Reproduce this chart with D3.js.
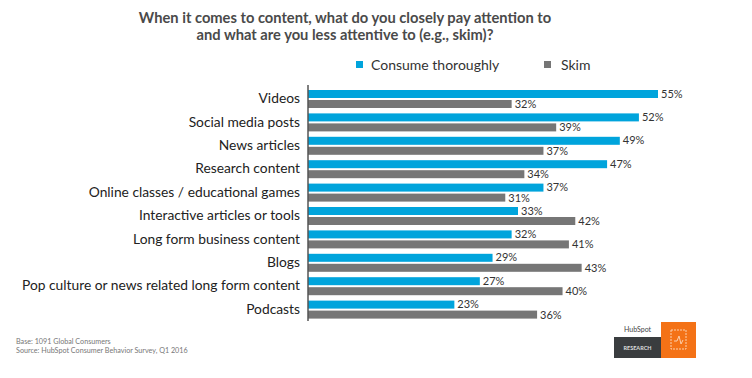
<!DOCTYPE html>
<html>
<head>
<meta charset="utf-8">
<script src="https://cdn.jsdelivr.net/npm/d3@7"></script>
<style>
  html, body { margin: 0; padding: 0; background: #fff; }
  svg { display: block; }
  text { font-family: Lato, sans-serif; }
</style>
</head>
<body>
<svg id="chart"></svg>
<script>
const categories = ['Videos', 'Social media posts', 'News articles', 'Research content',
  'Online classes / educational games', 'Interactive articles or tools',
  'Long form business content', 'Blogs', 'Pop culture or news related long form content', 'Podcasts'];
const consume = [55, 52, 49, 47, 37, 33, 32, 29, 27, 23];
const skim = [32, 39, 37, 34, 31, 42, 41, 43, 40, 36];
const seriesNames = ['Consume thoroughly', 'Skim'];
const titleLines = ['When it comes to content, what do you closely pay attention to',
  'and what are you less attentive to (e.g., skim)?'];
const notes = ['Base: 1091 Global Consumers', 'Source: HubSpot Consumer Behavior Survey, Q1 2016'];

const width = 752, height = 378;
const blue = '#00a4dc', grey = '#767676';

const svg = d3.select('#chart').attr('width', width).attr('height', height);

const x = d3.scaleLinear().domain([0, 55]).range([308, 658]);
const y = d3.scaleBand().domain(categories).range([87, 321]);

// title
svg.append('g').selectAll('text').data(titleLines).join('text')
    .attr('x', 345).attr('y', (d, i) => 23 + i * 16.5)
    .attr('text-anchor', 'middle')
    .attr('font-size', 14.7).attr('font-weight', 700).attr('fill', '#4a4a4a')
    .text(d => d);

// legend
const legendX = [356, 544];
const legend = svg.append('g').selectAll('g').data(seriesNames).join('g')
    .attr('transform', (d, i) => `translate(${legendX[i]},61)`);
legend.append('rect').attr('width', 7).attr('height', 7)
    .attr('fill', (d, i) => i === 0 ? blue : grey);
legend.append('text').attr('x', (d, i) => i === 0 ? 15 : 17).attr('y', 9)
    .attr('font-size', 14).attr('fill', '#333').text(d => d);

// bars
const rows = svg.append('g').selectAll('g').data(categories).join('g')
    .attr('transform', d => `translate(0,${y(d)})`);

rows.append('rect').attr('x', x(0)).attr('y', 3)
    .attr('width', (d, i) => x(consume[i]) - x(0)).attr('height', 8).attr('fill', blue);
rows.append('rect').attr('x', x(0)).attr('y', 13)
    .attr('width', (d, i) => x(skim[i]) - x(0)).attr('height', 8).attr('fill', grey);

rows.append('text').attr('x', (d, i) => x(consume[i]) + 3).attr('y', 10.5)
    .attr('font-size', 11).attr('fill', '#333').text((d, i) => consume[i] + '%');
rows.append('text').attr('x', (d, i) => x(skim[i]) + 3).attr('y', 21)
    .attr('font-size', 11).attr('fill', '#333').text((d, i) => skim[i] + '%');

// category labels via axis
const yAxis = d3.axisLeft(y).tickSize(0).tickPadding(8);
const axisG = svg.append('g').attr('transform', 'translate(308,0)').call(yAxis);
axisG.select('.domain').remove();
axisG.selectAll('text')
    .attr('font-family', 'Lato, sans-serif')
    .attr('font-size', 13.8).attr('fill', '#222');
svg.append('line').attr('x1', 308).attr('x2', 308).attr('y1', 85).attr('y2', 321)
    .attr('stroke', '#555').attr('stroke-width', 1.5);

// footnotes
svg.append('g').selectAll('text').data(notes).join('text')
    .attr('x', 16).attr('y', (d, i) => 344 + i * 9)
    .attr('font-size', 7.2).attr('fill', '#777').text(d => d);

// logo block
const logo = svg.append('g');
logo.append('text').attr('x', 624).attr('y', 332).attr('font-size', 7).attr('fill', '#444').text('HubSpot');
logo.append('rect').attr('x', 614).attr('y', 337).attr('width', 47).attr('height', 21).attr('fill', '#3a3d3f');
logo.append('text').attr('x', 637.5).attr('y', 350).attr('text-anchor', 'middle')
    .attr('font-size', 5.5).attr('font-weight', 700).attr('fill', '#ddd').text('RESEARCH');
logo.append('rect').attr('x', 661).attr('y', 322).attr('width', 35).attr('height', 36).attr('fill', '#f47216');
logo.append('rect').attr('x', 671).attr('y', 330).attr('width', 15).attr('height', 19)
    .attr('fill', 'none').attr('stroke', '#fbd0ae').attr('stroke-width', 1).attr('stroke-dasharray', '2 1');
logo.append('path').attr('d', 'M674 341 L677 341 L679 336 L681 344 L683 340')
    .attr('fill', 'none').attr('stroke', '#fbd0ae').attr('stroke-width', 1);
</script>
</body>
</html>
